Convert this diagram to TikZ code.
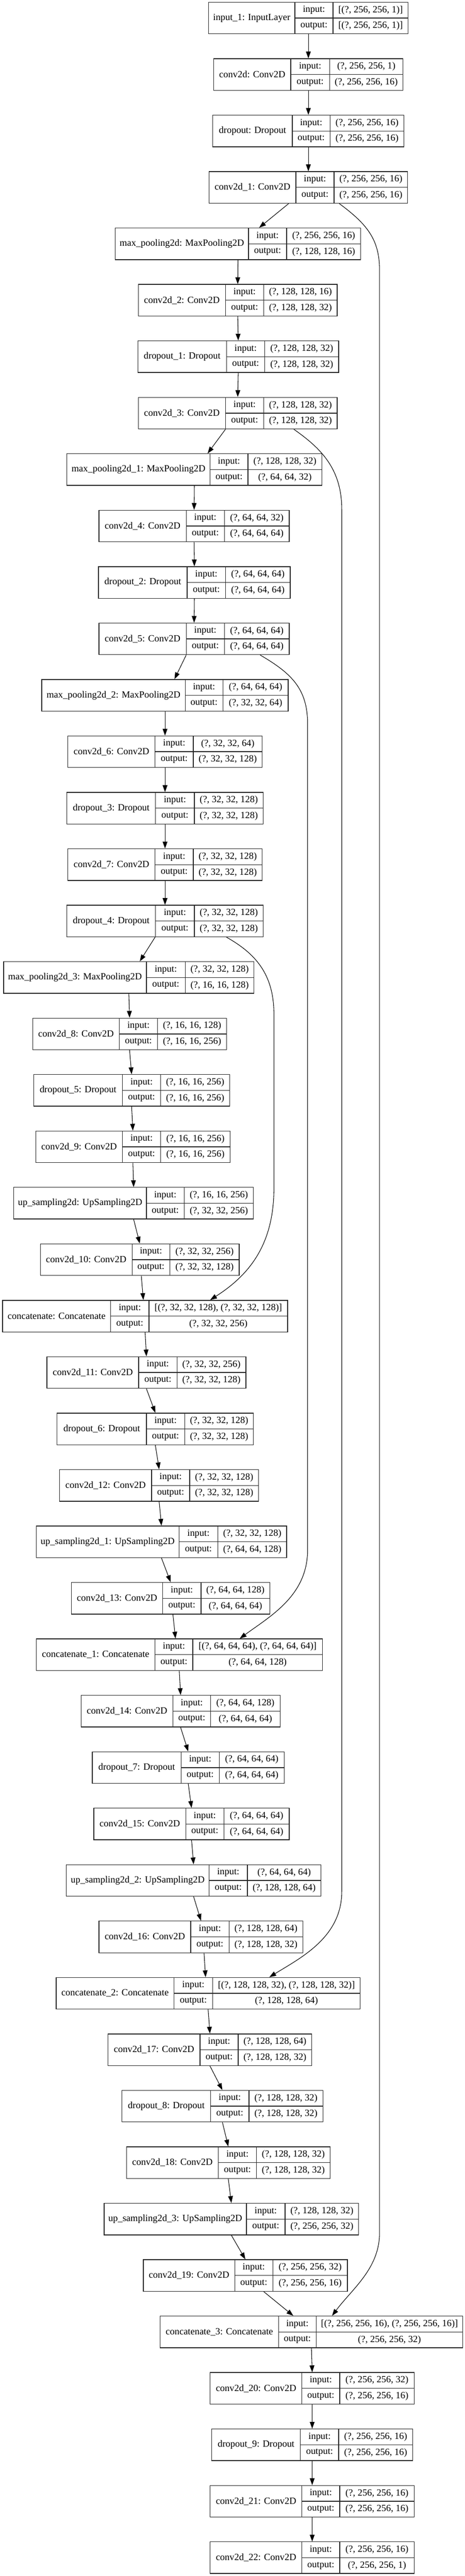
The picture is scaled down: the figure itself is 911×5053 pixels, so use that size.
\documentclass[tikz,border=0pt]{standalone}
\usepackage{fontspec}
\setmainfont{Liberation Serif}
\usetikzlibrary{arrows.meta,calc}

% one keras layer: name, rank, left, 1st divider, 2nd divider, right, label, input, output
\newcommand{\kerasnode}[9]{%
  \pgfmathsetmacro{\ytop}{4.5+110.7*#2}%
  \pgfmathsetmacro{\ymid}{\ytop+31}%
  \pgfmathsetmacro{\ybot}{\ytop+62}%
  \pgfmathsetmacro{\boxw}{0.75*(#6-#3)}%
  \node[layerbox, minimum width=\boxw pt] (#1) at ({(#3+#6)/2},\ymid) {};
  \draw[cellline] (#4,\ytop) -- (#4,\ybot) (#5,\ytop) -- (#5,\ybot) (#4,\ymid) -- (#6,\ymid);
  \node[cell] at ({(#3+#4)/2},\ymid) {#7};
  \node[cell] at ({(#4+#5)/2},\ytop+15.5) {input:};
  \node[cell] at ({(#4+#5)/2},\ytop+46.5) {output:};
  \node[cell] at ({(#5+#6)/2},\ytop+15.5) {#8};
  \node[cell] at ({(#5+#6)/2},\ytop+46.5) {#9};
}

\begin{document}
\begin{tikzpicture}[x=0.75pt,y=-0.75pt]
\tikzstyle{layerbox}=[draw=black!85, fill=white, line width=1pt, minimum height=46.5pt, inner sep=0pt]
\tikzstyle{cellline}=[draw=black!85, line width=1pt]
\tikzstyle{cell}=[inner sep=0pt, font=\fontsize{14}{16}\selectfont]
\tikzstyle{link}=[-{Triangle[length=10pt,width=7pt]}, line width=0.8pt]
\useasboundingbox (0,0) rectangle (911,5053);
% encoder
\kerasnode{input1}{0}{409}{578}{653}{800}{input\_1: InputLayer}{[(?, 256, 256, 1)]}{[(?, 256, 256, 1)]}
\kerasnode{conv0}{1}{419}{570}{646}{790}{conv2d: Conv2D}{(?, 256, 256, 1)}{(?, 256, 256, 16)}
\kerasnode{drop0}{2}{417}{573}{647}{792}{dropout: Dropout}{(?, 256, 256, 16)}{(?, 256, 256, 16)}
\kerasnode{conv1}{3}{410}{580}{655}{799}{conv2d\_1: Conv2D}{(?, 256, 256, 16)}{(?, 256, 256, 16)}
\kerasnode{pool0}{4}{226}{487}{562}{707}{max\_pooling2d: MaxPooling2D}{(?, 256, 256, 16)}{(?, 128, 128, 16)}
\kerasnode{conv2}{5}{271}{442}{517}{661}{conv2d\_2: Conv2D}{(?, 128, 128, 16)}{(?, 128, 128, 32)}
\kerasnode{drop1}{6}{270}{444}{519}{664}{dropout\_1: Dropout}{(?, 128, 128, 32)}{(?, 128, 128, 32)}
\kerasnode{conv3}{7}{271}{442}{517}{661}{conv2d\_3: Conv2D}{(?, 128, 128, 32)}{(?, 128, 128, 32)}
\kerasnode{pool1}{8}{131}{412}{486}{631}{max\_pooling2d\_1: MaxPooling2D}{(?, 128, 128, 32)}{(?, 64, 64, 32)}
\kerasnode{conv4}{9}{194}{365}{440}{567}{conv2d\_4: Conv2D}{(?, 64, 64, 32)}{(?, 64, 64, 64)}
\kerasnode{drop2}{10}{193}{367}{442}{569}{dropout\_2: Dropout}{(?, 64, 64, 64)}{(?, 64, 64, 64)}
\kerasnode{conv5}{11}{194}{365}{440}{567}{conv2d\_5: Conv2D}{(?, 64, 64, 64)}{(?, 64, 64, 64)}
\kerasnode{pool2}{12}{82}{363}{437}{565}{max\_pooling2d\_2: MaxPooling2D}{(?, 64, 64, 64)}{(?, 32, 32, 64)}
\kerasnode{conv6}{13}{133}{304}{379}{514}{conv2d\_6: Conv2D}{(?, 32, 32, 64)}{(?, 32, 32, 128)}
\kerasnode{drop3}{14}{131}{305}{381}{516}{dropout\_3: Dropout}{(?, 32, 32, 128)}{(?, 32, 32, 128)}
\kerasnode{conv7}{15}{133}{304}{379}{514}{conv2d\_7: Conv2D}{(?, 32, 32, 128)}{(?, 32, 32, 128)}
\kerasnode{drop4}{16}{131}{305}{381}{516}{dropout\_4: Dropout}{(?, 32, 32, 128)}{(?, 32, 32, 128)}
\kerasnode{pool3}{17}{7}{287}{363}{498}{max\_pooling2d\_3: MaxPooling2D}{(?, 32, 32, 128)}{(?, 16, 16, 128)}
\kerasnode{conv8}{18}{64}{234}{309}{444}{conv2d\_8: Conv2D}{(?, 16, 16, 128)}{(?, 16, 16, 256)}
\kerasnode{drop5}{19}{66}{240}{315}{450}{dropout\_5: Dropout}{(?, 16, 16, 256)}{(?, 16, 16, 256)}
\kerasnode{conv9}{20}{70}{240}{315}{451}{conv2d\_9: Conv2D}{(?, 16, 16, 256)}{(?, 16, 16, 256)}
% decoder
\kerasnode{up0}{21}{27}{287}{361}{497}{up\_sampling2d: UpSampling2D}{(?, 16, 16, 256)}{(?, 32, 32, 256)}
\kerasnode{conv10}{22}{79}{259}{333}{469}{conv2d\_10: Conv2D}{(?, 32, 32, 256)}{(?, 32, 32, 128)}
\kerasnode{concat0}{23}{5}{217}{292}{564}{concatenate: Concatenate}{[(?, 32, 32, 128), (?, 32, 32, 128)]}{(?, 32, 32, 256)}
\kerasnode{conv11}{24}{92}{272}{347}{482}{conv2d\_11: Conv2D}{(?, 32, 32, 256)}{(?, 32, 32, 128)}
\kerasnode{drop6}{25}{112}{287}{362}{497}{dropout\_6: Dropout}{(?, 32, 32, 128)}{(?, 32, 32, 128)}
\kerasnode{conv12}{26}{117}{297}{372}{507}{conv2d\_12: Conv2D}{(?, 32, 32, 128)}{(?, 32, 32, 128)}
\kerasnode{up1}{27}{71}{351}{427}{562}{up\_sampling2d\_1: UpSampling2D}{(?, 32, 32, 128)}{(?, 64, 64, 128)}
\kerasnode{conv13}{28}{140}{319}{394}{529}{conv2d\_13: Conv2D}{(?, 64, 64, 128)}{(?, 64, 64, 64)}
\kerasnode{concat1}{29}{71}{304}{378}{632}{concatenate\_1: Concatenate}{[(?, 64, 64, 64), (?, 64, 64, 64)]}{(?, 64, 64, 128)}
\kerasnode{conv14}{30}{159}{339}{413}{549}{conv2d\_14: Conv2D}{(?, 64, 64, 128)}{(?, 64, 64, 64)}
\kerasnode{drop7}{31}{181}{355}{430}{557}{dropout\_7: Dropout}{(?, 64, 64, 64)}{(?, 64, 64, 64)}
\kerasnode{conv15}{32}{184}{364}{439}{567}{conv2d\_15: Conv2D}{(?, 64, 64, 64)}{(?, 64, 64, 64)}
\kerasnode{up2}{33}{130}{410}{485}{629}{up\_sampling2d\_2: UpSampling2D}{(?, 64, 64, 64)}{(?, 128, 128, 64)}
\kerasnode{conv16}{34}{194}{374}{449}{594}{conv2d\_16: Conv2D}{(?, 128, 128, 64)}{(?, 128, 128, 32)}
\kerasnode{concat2}{35}{110}{341}{417}{706}{concatenate\_2: Concatenate}{[(?, 128, 128, 32), (?, 128, 128, 32)]}{(?, 128, 128, 64)}
\kerasnode{conv17}{36}{212}{392}{467}{611}{conv2d\_17: Conv2D}{(?, 128, 128, 64)}{(?, 128, 128, 32)}
\kerasnode{drop8}{37}{239}{413}{488}{633}{dropout\_8: Dropout}{(?, 128, 128, 32)}{(?, 128, 128, 32)}
\kerasnode{conv18}{38}{248}{428}{503}{647}{conv2d\_18: Conv2D}{(?, 128, 128, 32)}{(?, 128, 128, 32)}
\kerasnode{up3}{39}{204}{483}{559}{703}{up\_sampling2d\_3: UpSampling2D}{(?, 128, 128, 32)}{(?, 256, 256, 32)}
\kerasnode{conv19}{40}{281}{460}{535}{681}{conv2d\_19: Conv2D}{(?, 256, 256, 32)}{(?, 256, 256, 16)}
\kerasnode{concat3}{41}{314}{546}{620}{907}{concatenate\_3: Concatenate}{[(?, 256, 256, 16), (?, 256, 256, 16)]}{(?, 256, 256, 32)}
\kerasnode{conv20}{42}{412}{592}{666}{812}{conv2d\_20: Conv2D}{(?, 256, 256, 32)}{(?, 256, 256, 16)}
\kerasnode{drop9}{43}{415}{589}{664}{809}{dropout\_9: Dropout}{(?, 256, 256, 16)}{(?, 256, 256, 16)}
\kerasnode{conv21}{44}{412}{592}{666}{812}{conv2d\_21: Conv2D}{(?, 256, 256, 16)}{(?, 256, 256, 16)}
\kerasnode{conv22}{45}{412}{592}{666}{812}{conv2d\_22: Conv2D}{(?, 256, 256, 16)}{(?, 256, 256, 1)}
% straight chain
\foreach \a/\b in {input1/conv0, conv0/drop0, drop0/conv1, pool0/conv2, conv2/drop1, drop1/conv3,
  pool1/conv4, conv4/drop2, drop2/conv5, pool2/conv6, conv6/drop3, drop3/conv7, conv7/drop4,
  pool3/conv8, conv8/drop5, drop5/conv9, conv9/up0, up0/conv10, concat0/conv11, conv11/drop6,
  drop6/conv12, conv12/up1, up1/conv13, concat1/conv14, conv14/drop7, drop7/conv15, conv15/up2,
  up2/conv16, concat2/conv17, conv17/drop8, drop8/conv18, conv18/up3, up3/conv19,
  concat3/conv20, conv20/drop9, drop9/conv21, conv21/conv22}
  \draw[link] (\a.south) -- (\b.north);
% chain edges leaving or entering off centre
\foreach \a/\da/\b/\db in {conv1/-38.5/pool0/41.5, conv3/-24/pool1/26, conv5/-15.5/pool2/18.5,
  drop4/-19.5/pool3/21.5, conv10/3/concat0/-3.5, conv13/4.5/concat1/-7.5, conv16/6/concat2/-5,
  conv19/36/concat3/-35.5}
  \draw[link] ($(\a.south)+(\da,0)$) -- ($(\b.north)+(\db,0)$);
% skip connections
\draw[link] ($(conv1.south)+(60.5,0)$) .. controls (720,440) and (744,470) .. (744,530)
  -- (744,4380) .. controls (744,4450) and (690,4490) .. ($(concat3.north)+(40.5,0)$);
\draw[link] ($(conv3.south)+(110,0)$) .. controls (630,880) and (670,920) .. (670,1000)
  -- (670,3710) .. controls (670,3800) and (590,3840) .. ($(concat2.north)+(120,0)$);
\draw[link] ($(conv5.south)+(129.5,0)$) .. controls (570,1320) and (603,1350) .. (603,1420)
  -- (603,3040) .. controls (603,3130) and (530,3170) .. ($(concat1.north)+(118.5,0)$);
\draw[link] ($(drop4.south)+(120.5,0)$) .. controls (500,1870) and (537,1910) .. (537,1990)
  -- (537,2330) .. controls (537,2440) and (490,2500) .. ($(concat0.north)+(127.5,0)$);
\end{tikzpicture}
\end{document}
